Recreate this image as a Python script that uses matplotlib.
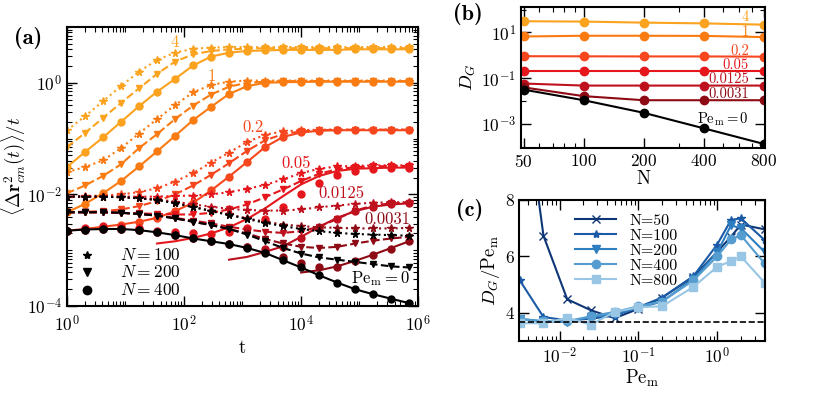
import numpy as np
import matplotlib
matplotlib.use("Agg")
import matplotlib.pyplot as plt
from matplotlib.ticker import (FixedLocator, LogLocator, NullFormatter,
                               ScalarFormatter, LogFormatterSciNotation)

plt.rcParams["font.family"] = "serif"
plt.rcParams["font.serif"] = ["cmr10"]
plt.rcParams["mathtext.fontset"] = "cm"
plt.rcParams["axes.formatter.use_mathtext"] = True
plt.rcParams["axes.unicode_minus"] = False

# ---------------- panel (a): MSD/t vs t (log10 values) ----------------
t = np.logspace(0, 5.85, 20)   # sampling times of the markers

pe_a = ["4", "1", "0.2", "0.05", "0.0125", "0.0031"]
colors_pe = ["#fba21e", "#f97b12", "#f6461d", "#e5171c", "#bf101e", "#8e0a14"]

pe4_n100 = [-0.85, -0.60, -0.33, -0.06, 0.20, 0.41, 0.54, 0.61, 0.63, 0.64, 0.64, 0.64, 0.64, 0.64, 0.64, 0.64, 0.64, 0.64, 0.64, 0.64]
pe4_n200 = [-1.15, -0.90, -0.63, -0.36, -0.10, 0.16, 0.38, 0.51, 0.57, 0.60, 0.61, 0.62, 0.62, 0.62, 0.62, 0.62, 0.62, 0.62, 0.62, 0.62]
pe4_n400 = [-1.51, -1.24, -0.98, -0.70, -0.42, -0.16, 0.07, 0.31, 0.47, 0.54, 0.57, 0.58, 0.59, 0.59, 0.59, 0.59, 0.60, 0.60, 0.60, 0.60]

pe1_n100 = [-1.60, -1.51, -1.39, -1.17, -0.91, -0.65, -0.40, -0.17, -0.04, 0.02, 0.04, 0.04, 0.04, 0.04, 0.04, 0.04, 0.04, 0.04, 0.04, 0.04]
pe1_n200 = [-1.98, -1.84, -1.67, -1.46, -1.17, -0.92, -0.65, -0.41, -0.21, -0.07, 0.00, 0.02, 0.03, 0.03, 0.03, 0.03, 0.03, 0.03, 0.03, 0.03]
pe1_n400 = [-2.32, -2.17, -1.98, -1.76, -1.50, -1.23, -0.95, -0.67, -0.43, -0.20, -0.06, 0.00, 0.01, 0.015, 0.02, 0.02, 0.02, 0.02, 0.02, 0.02]

pe02_n100 = [-2.04, -2.03, -2.02, -2.00, -1.96, -1.89, -1.77, -1.62, -1.43, -1.25, -1.06, -0.93, -0.87, -0.85, -0.84, -0.84, -0.84, -0.84, -0.84, -0.84]
pe02_n200 = [-2.32, -2.31, -2.30, -2.27, -2.21, -2.12, -2.00, -1.84, -1.65, -1.44, -1.22, -1.03, -0.92, -0.87, -0.85, -0.84, -0.84, -0.84, -0.84, -0.84]
pe02_n400 = [-2.65, -2.62, -2.58, -2.54, -2.49, -2.42, -2.30, -2.15, -1.93, -1.68, -1.42, -1.15, -0.97, -0.89, -0.86, -0.85, -0.85, -0.85, -0.85, -0.85]

pe005_n100 = [-2.04, -2.04, -2.04, -2.04, -2.04, -2.04, -2.03, -2.02, -2.00, -1.96, -1.90, -1.83, -1.73, -1.62, -1.54, -1.50, -1.49, -1.48, -1.48, -1.48]
pe005_n200 = [-2.32, -2.32, -2.32, -2.33, -2.34, -2.35, -2.36, -2.36, -2.33, -2.27, -2.18, -2.05, -1.91, -1.76, -1.63, -1.55, -1.51, -1.50, -1.49, -1.49]
pe005_n400 = [-2.65, -2.60, -2.57, -2.58, -2.61, -2.65, -2.68, -2.70, -2.71, -2.68, -2.60, -2.44, -2.23, -2.00, -1.80, -1.66, -1.58, -1.54, -1.53, -1.52]

pe00125_n100 = [-2.04, -2.04, -2.04, -2.05, -2.07, -2.09, -2.13, -2.18, -2.22, -2.26, -2.28, -2.29, -2.29, -2.27, -2.23, -2.20, -2.17, -2.15, -2.14, -2.14]
pe00125_n200 = [-2.32, -2.32, -2.32, -2.33, -2.35, -2.38, -2.42, -2.47, -2.52, -2.58, -2.63, -2.67, -2.69, -2.66, -2.58, -2.44, -2.29, -2.20, -2.16, -2.15]
pe00125_n400 = [-2.65, -2.63, -2.62, -2.62, -2.64, -2.68, -2.73, -2.79, -2.84, -2.89, -2.94, -2.98, -2.94, -2.79, -2.61, -2.44, -2.30, -2.22, -2.18, -2.16]

pe00031_n100 = [-2.04, -2.04, -2.04, -2.05, -2.07, -2.10, -2.15, -2.22, -2.29, -2.36, -2.43, -2.49, -2.54, -2.57, -2.59, -2.60, -2.61, -2.61, -2.61, -2.60]
pe00031_n200 = [-2.32, -2.32, -2.32, -2.33, -2.35, -2.38, -2.43, -2.49, -2.55, -2.62, -2.70, -2.80, -2.88, -2.94, -2.96, -2.94, -2.88, -2.83, -2.79, -2.76]
pe00031_n400 = [-2.65, -2.63, -2.62, -2.62, -2.64, -2.68, -2.73, -2.79, -2.84, -2.89, -2.95, -3.03, -3.12, -3.23, -3.31, -3.31, -3.20, -3.09, -2.97, -2.84]

pe0_n100 = [-2.04, -2.04, -2.04, -2.05, -2.07, -2.10, -2.16, -2.23, -2.30, -2.37, -2.44, -2.51, -2.57, -2.62, -2.66, -2.69, -2.71, -2.72, -2.73, -2.74]
pe0_n200 = [-2.32, -2.32, -2.32, -2.33, -2.35, -2.38, -2.43, -2.49, -2.55, -2.62, -2.72, -2.84, -2.96, -3.06, -3.13, -3.17, -3.21, -3.25, -3.29, -3.31]
pe0_n400 = [-2.65, -2.63, -2.62, -2.62, -2.64, -2.68, -2.73, -2.79, -2.84, -2.89, -2.96, -3.05, -3.18, -3.31, -3.45, -3.58, -3.70, -3.79, -3.87, -3.95]

# long-time fits for N=400 that start later (first marker index, log10 values)
fit005_start, fit005 = 5, [-2.88, -2.84, -2.78, -2.70, -2.59, -2.44, -2.25, -2.03, -1.82, -1.67, -1.58, -1.54, -1.53, -1.52, -1.52]
fit00125_start, fit00125 = 9, [-3.17, -3.12, -3.03, -2.93, -2.76, -2.58, -2.42, -2.30, -2.22, -2.18, -2.16]
fit00031_start, fit00031 = 13, [-3.40, -3.36, -3.29, -3.19, -3.08, -2.96, -2.84]

# ---------------- panel (b): D_G vs N ----------------
n_b = [50, 100, 200, 400, 800]
dg_pe4 = [31, 30, 27, 25, 22]
dg_pe1 = [6.7, 7.2, 7.2, 7.1, 6.3]
dg_pe02 = [0.92, 0.91, 0.90, 0.90, 0.88]
dg_pe005 = [0.20, 0.20, 0.20, 0.20, 0.20]
dg_pe00125 = [0.059, 0.048, 0.048, 0.048, 0.048]
dg_pe00031 = [0.040, 0.0166, 0.011, 0.011, 0.011]
dg_pe0 = [0.032, 0.011, 0.0031, 0.00065, 0.000135]

# ---------------- panel (c): D_G/Pe vs Pe ----------------
pe_c = [0.003125, 0.00625, 0.0125, 0.025, 0.05, 0.1, 0.2, 0.5, 1, 1.5, 2, 4]
ratio_n50 = [13.0, 6.73, 4.48, 4.09, 3.81, 4.14, 4.54, 5.27, 6.16, 6.70, 7.13, 6.96]
ratio_n100 = [5.15, 3.85, 3.73, 3.79, 3.90, 4.20, 4.54, 5.30, 6.42, 7.29, 7.35, 6.58]
ratio_n200 = [3.79, 3.70, 3.67, 3.85, 3.97, 4.17, 4.40, 5.20, 6.14, 7.10, 7.00, 6.16]
ratio_n400 = [3.77, 3.70, 3.70, 3.88, 4.03, 4.23, 4.40, 5.15, 6.00, 6.60, 6.75, 5.75]
ratio_n800 = [3.63, 3.63, 3.82, 3.58, 4.03, 4.20, 4.23, 4.92, 5.63, 5.83, 6.00, 5.07]
ratio_limit = 3.69
blues = ["#0e3676", "#1b5aa6", "#2f7fc0", "#559dd0", "#98c6e4"]

fig = plt.figure(figsize=(8.3, 3.93), dpi=100)


def style_axes(ax):
    ax.tick_params(which="both", direction="in", top=True, right=True, labelsize=12.5)
    ax.tick_params(which="major", length=7, width=1)
    ax.tick_params(which="minor", length=3.5, width=0.8)
    for s in ax.spines.values():
        s.set_linewidth(1.5)


# ---- (a)
ax = fig.add_axes([0.0807, 0.2214, 0.4229, 0.7099])
groups = [
    (pe4_n100, pe4_n200, pe4_n400),
    (pe1_n100, pe1_n200, pe1_n400),
    (pe02_n100, pe02_n200, pe02_n400),
    (pe005_n100, pe005_n200, pe005_n400),
    (pe00125_n100, pe00125_n200, pe00125_n400),
    (pe00031_n100, pe00031_n200, pe00031_n400),
    (pe0_n100, pe0_n200, pe0_n400),
]
cols = colors_pe + ["k"]
fits = {3: (fit005_start, fit005), 4: (fit00125_start, fit00125), 5: (fit00031_start, fit00031)}
for i, (a100, a200, a400) in enumerate(groups):
    c = cols[i]
    ax.plot(t, 10 ** np.array(a100), ":", color=c, lw=1.5, marker="*", ms=5.5)
    ax.plot(t, 10 ** np.array(a200), "--", color=c, lw=1.5, marker="v", ms=5)
    if i in fits:
        k0, f = fits[i]
        ax.plot(t, 10 ** np.array(a400), "o", color=c, ms=5)
        ax.plot(t[k0:], 10 ** np.array(f), "-", color=c, lw=1.5)
    else:
        ax.plot(t, 10 ** np.array(a400), "-", color=c, lw=1.5, marker="o", ms=5)

ax.set_xscale("log")
ax.set_yscale("log")
ax.set_xlim(1, 1e6)
ax.set_ylim(1e-4, 10)
ax.xaxis.set_major_locator(FixedLocator([1, 1e2, 1e4, 1e6]))
ax.yaxis.set_major_locator(FixedLocator([1e-4, 1e-2, 1]))
ax.xaxis.set_major_formatter(LogFormatterSciNotation())
ax.yaxis.set_major_formatter(LogFormatterSciNotation())
for axis in (ax.xaxis, ax.yaxis):
    axis.set_minor_locator(LogLocator(base=10, subs=np.arange(1, 10), numticks=40))
    axis.set_minor_formatter(NullFormatter())
style_axes(ax)
ax.tick_params(axis="x", which="major", pad=6)
ax.set_xlabel("t", fontsize=13.5, labelpad=3)
ax.set_ylabel(r"$\langle\Delta\mathbf{r}^2_{cm}(t)\rangle/t$", fontsize=13.5, labelpad=0)

lab_pos = [(70, 5.25), (300, 1.28), (1500, 0.161), (8200, 0.036), (5.0e4, 0.0105), (2.95e5, 0.0035)]
for (x, y), s, c in zip(lab_pos, pe_a, colors_pe):
    ax.text(x, y, s, color=c, fontsize=12, ha="center", va="center")
ax.text(2.24e5, 3.1e-4, r"$\mathrm{Pe_m} = 0$", fontsize=12, ha="center", va="center")

# marker key for the chain lengths (drawn by hand, axes fractions)
key_marks = ["*", "v", "o"]
key_labels = [r"$N = 100$", r"$N = 200$", r"$N = 400$"]
key_y = [0.183, 0.122, 0.059]
for m, s, y in zip(key_marks, key_labels, key_y):
    ax.plot([0.057], [y], marker=m, color="k", ms=6, ls="none",
            transform=ax.transAxes, clip_on=False)
    ax.text(0.151, y, s, fontsize=12.5, ha="left", va="center", transform=ax.transAxes)

# ---- (b)
axb = fig.add_axes([0.6277, 0.6234, 0.2940, 0.3588])
dg_all = [dg_pe4, dg_pe1, dg_pe02, dg_pe005, dg_pe00125, dg_pe00031, dg_pe0]
for d, c in zip(dg_all, cols):
    axb.plot(n_b, d, "-o", color=c, lw=1.5, ms=6)
axb.set_xscale("log")
axb.set_yscale("log")
axb.set_xlim(48.5, 810)
axb.set_ylim(9e-5, 1.3e2)
axb.xaxis.set_major_locator(FixedLocator(n_b))
axb.xaxis.set_major_formatter(ScalarFormatter())
axb.xaxis.set_minor_locator(LogLocator(base=10, subs=np.arange(1, 10), numticks=20))
axb.xaxis.set_minor_formatter(NullFormatter())
axb.yaxis.set_major_locator(FixedLocator([1e-3, 1e-1, 1e1]))
axb.yaxis.set_major_formatter(LogFormatterSciNotation())
axb.yaxis.set_minor_locator(FixedLocator([1e-4, 1e-2, 1, 1e2]))
axb.yaxis.set_minor_formatter(NullFormatter())
style_axes(axb)
axb.set_xlabel("N", fontsize=13.5, labelpad=0)
axb.set_ylabel(r"$D_G$", fontsize=13.5, labelpad=2)
blab_y = [0.929, 0.823, 0.688, 0.589, 0.489, 0.383]
for y, s, c in zip(blab_y, pe_a, colors_pe):
    axb.text(0.934, y, s, color=c, fontsize=10.5, ha="right", va="center", transform=axb.transAxes)
axb.text(0.934, 0.206, r"$\mathrm{Pe_m} = 0$", fontsize=10.5, ha="right", va="center",
         transform=axb.transAxes)

# ---- (c)
axc = fig.add_axes([0.6259, 0.1323, 0.2958, 0.3588])
ratios = [ratio_n50, ratio_n100, ratio_n200, ratio_n400, ratio_n800]
marks = ["x", "*", "v", "o", "s"]
names = ["N=50", "N=100", "N=200", "N=400", "N=800"]
for r, m, c, nm in zip(ratios, marks, blues, names):
    axc.plot(pe_c, r, "-", marker=m, color=c, lw=1.5, ms=6, label=nm)
axc.axhline(ratio_limit, color="k", ls="--", lw=1.2)
axc.set_xscale("log")
axc.set_xlim(0.0031, 4.05)
axc.set_ylim(3, 8)
axc.set_yticks([4, 6, 8])
axc.xaxis.set_major_locator(FixedLocator([1e-2, 1e-1, 1]))
axc.xaxis.set_major_formatter(LogFormatterSciNotation())
axc.xaxis.set_minor_locator(LogLocator(base=10, subs=np.arange(1, 10), numticks=20))
axc.xaxis.set_minor_formatter(NullFormatter())
style_axes(axc)
axc.set_xlabel(r"$\mathrm{Pe_m}$", fontsize=13.5, labelpad=1)
axc.set_ylabel(r"$D_G/\mathrm{Pe_m}$", fontsize=13.5, labelpad=2)
axc.legend(loc="upper left", bbox_to_anchor=(0.17, 1.0), frameon=False, fontsize=11.5,
           handlelength=2.6, handletextpad=0.8, labelspacing=0.05, borderpad=0.35)

for x, y, s in [(28, 38, "(a)"), (468, 14, "(b)"), (470, 210, "(c)")]:
    fig.text(x / 830, 1 - y / 393, s, fontfamily="cmb10", fontsize=16, ha="center", va="center")

fig.savefig("out.png", dpi=100)
